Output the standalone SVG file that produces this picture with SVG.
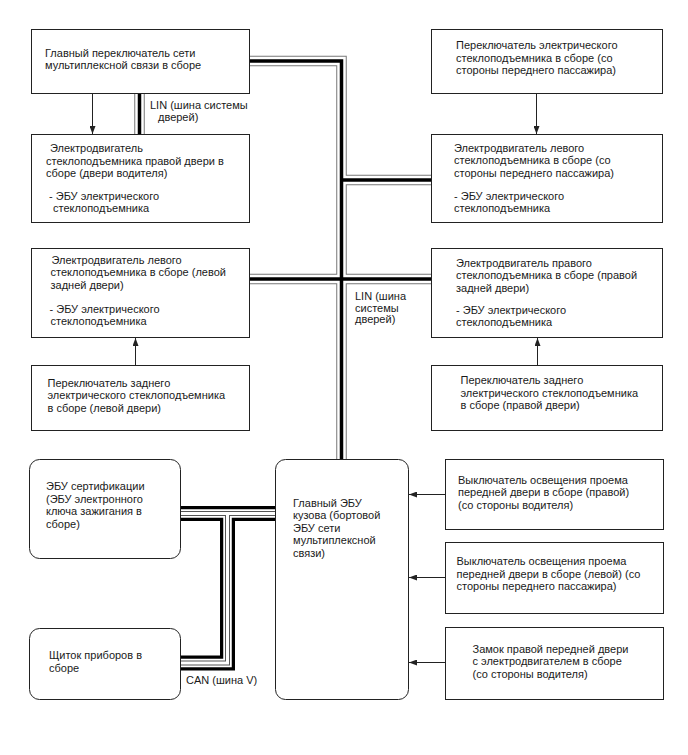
<svg xmlns="http://www.w3.org/2000/svg" xmlns:xlink="http://www.w3.org/1999/xlink" width="688" height="755" viewBox="0 0 688 755">
<style>
  .box { fill: #fff; stroke: #222; stroke-width: 1; }
  .t { font-family: "Liberation Sans", Arial, sans-serif; font-size: 11px; fill: #1a1a1a; }
  .arr { stroke: #222; stroke-width: 1; fill: none; marker-end: url(#ah); }
  .linA { stroke: #777; stroke-width: 10.5; fill: none; }
  .linB { stroke: #fff; stroke-width: 8.5; fill: none; }
  .linC { stroke: #000; stroke-width: 3.5; fill: none; }
  .canA { stroke: #000; stroke-width: 15; fill: none; }
  .canB { stroke: #fff; stroke-width: 8.5; fill: none; }
  .canC { stroke: #555; stroke-width: 5; fill: none; }
  .canD { stroke: #fff; stroke-width: 3; fill: none; }
</style>
<defs>
  <marker id="ah" markerWidth="8" markerHeight="6" refX="8" refY="3" orient="auto" markerUnits="userSpaceOnUse">
    <path d="M0,0 L8,3 L0,6 Z" fill="#222"/>
  </marker>
  <path id="lin1" d="M249.5,61 H341.5 V459" fill="none"/>
  <path id="lin2" d="M341.5,180 H431" fill="none"/>
  <path id="lin3" d="M249.5,279 H431" fill="none"/>
  <path id="lin4" d="M139.5,93.5 V134" fill="none"/>
  <path id="can1" d="M180.5,513.5 H275.5" fill="none"/>
  <path id="can2" d="M180.5,663 H227.5 V513.5" fill="none"/>
</defs>
<rect width="688" height="755" fill="#fff"/>
<g id="connectors">
  <use xlink:href="#lin1" class="linA"/><use xlink:href="#lin2" class="linA"/><use xlink:href="#lin3" class="linA"/><use xlink:href="#lin4" class="linA"/>
  <use xlink:href="#lin1" class="linB"/><use xlink:href="#lin2" class="linB"/><use xlink:href="#lin3" class="linB"/><use xlink:href="#lin4" class="linB"/>
  <use xlink:href="#lin1" class="linC"/><use xlink:href="#lin2" class="linC"/><use xlink:href="#lin3" class="linC"/><use xlink:href="#lin4" class="linC"/>
  <use xlink:href="#can1" class="canA"/><use xlink:href="#can2" class="canA"/>
  <use xlink:href="#can1" class="canB"/><use xlink:href="#can2" class="canB"/>
  <use xlink:href="#can1" class="canC"/><use xlink:href="#can2" class="canC"/>
  <use xlink:href="#can1" class="canD"/><use xlink:href="#can2" class="canD"/>
  <path class="arr" d="M92.5,93.5 V134"/>
  <path class="arr" d="M536.5,93.5 V134"/>
  <path class="arr" d="M135.5,365 V338"/>
  <path class="arr" d="M537.5,365 V338"/>
  <path class="arr" d="M445,494.5 H409"/>
  <path class="arr" d="M445,577.5 H409"/>
  <path class="arr" d="M445,662.5 H409"/>
  <text class="t"><tspan x="150" y="109">LIN (шина системы</tspan><tspan x="158" y="121">дверей)</tspan></text>
  <text class="t"><tspan x="355" y="300">LIN (шина</tspan><tspan x="355" y="311.5">системы</tspan><tspan x="355" y="323">дверей)</tspan></text>
  <text class="t" x="186" y="684">CAN (шина V)</text>
</g>
<g id="n1">
  <rect class="box" x="31.5" y="29.5" width="218" height="64"/>
  <text class="t"><tspan x="45" y="57">Главный переключатель сети</tspan><tspan x="45" y="69">мультиплексной связи в сборе</tspan></text>
</g>
<g id="n2">
  <rect class="box" x="31.5" y="134.5" width="218" height="88"/>
  <text class="t"><tspan x="50" y="152">Электродвигатель</tspan><tspan x="46" y="164.5">стеклоподъемника правой двери в</tspan><tspan x="46" y="177">сборе (двери водителя)</tspan><tspan x="49" y="199.5">- ЭБУ электрического</tspan><tspan x="53" y="212">стеклоподъемника</tspan></text>
</g>
<g id="n3">
  <rect class="box" x="431.5" y="29.5" width="231" height="64"/>
  <text class="t"><tspan x="456" y="49">Переключатель электрического</tspan><tspan x="456" y="61.5">стеклоподъемника в сборе (со</tspan><tspan x="456" y="74">стороны переднего пассажира)</tspan></text>
</g>
<g id="n4">
  <rect class="box" x="431.5" y="134.5" width="231" height="88"/>
  <text class="t"><tspan x="454" y="151.5">Электродвигатель левого</tspan><tspan x="454" y="164">стеклоподъемника в сборе (со</tspan><tspan x="454" y="176.5">стороны переднего пассажира)</tspan><tspan x="454" y="199.5">- ЭБУ электрического</tspan><tspan x="454" y="212">стеклоподъемника</tspan></text>
</g>
<g id="n5">
  <rect class="box" x="31.5" y="248.5" width="218" height="89"/>
  <text class="t"><tspan x="51.5" y="263.5">Электродвигатель левого</tspan><tspan x="50.5" y="276">стеклоподъемника в сборе (левой</tspan><tspan x="50.5" y="288.5">задней двери)</tspan><tspan x="49.5" y="312.5">- ЭБУ электрического</tspan><tspan x="50.5" y="325">стеклоподъемника</tspan></text>
</g>
<g id="n6">
  <rect class="box" x="431.5" y="248.5" width="231" height="89"/>
  <text class="t"><tspan x="456" y="266.5">Электродвигатель правого</tspan><tspan x="456" y="279">стеклоподъемника в сборе (правой</tspan><tspan x="456" y="291.5">задней двери)</tspan><tspan x="456" y="313.5">- ЭБУ электрического</tspan><tspan x="456" y="326">стеклоподъемника</tspan></text>
</g>
<g id="n7">
  <rect class="box" x="31.5" y="365.5" width="218" height="65"/>
  <text class="t"><tspan x="47.5" y="386.5">Переключатель заднего</tspan><tspan x="47.5" y="399">электрического стеклоподъемника</tspan><tspan x="47.5" y="411.5">в сборе (левой двери)</tspan></text>
</g>
<g id="n8">
  <rect class="box" x="431.5" y="365.5" width="231" height="65"/>
  <text class="t"><tspan x="460.5" y="384">Переключатель заднего</tspan><tspan x="460.5" y="396.5">электрического стеклоподъемника</tspan><tspan x="460.5" y="409">в сборе (правой двери)</tspan></text>
</g>
<g id="n9">
  <rect class="box" x="29.5" y="459.5" width="151" height="99" rx="10"/>
  <text class="t"><tspan x="46" y="490">ЭБУ сертификации</tspan><tspan x="46" y="502.5">(ЭБУ электронного</tspan><tspan x="46" y="515">ключа зажигания в</tspan><tspan x="46" y="527.5">сборе)</tspan></text>
</g>
<g id="n10">
  <rect class="box" x="275.5" y="459.5" width="133" height="240" rx="10"/>
  <text class="t"><tspan x="293" y="506.5">Главный ЭБУ</tspan><tspan x="293" y="519">кузова (бортовой</tspan><tspan x="293" y="531.5">ЭБУ сети</tspan><tspan x="293" y="544">мультиплексной</tspan><tspan x="293" y="556.5">связи)</tspan></text>
</g>
<g id="n11">
  <rect class="box" x="29.5" y="628.5" width="151" height="71" rx="10"/>
  <text class="t"><tspan x="49" y="659">Щиток приборов в</tspan><tspan x="49" y="671.5">сборе</tspan></text>
</g>
<g id="n12">
  <rect class="box" x="445.5" y="459.5" width="218" height="70"/>
  <text class="t"><tspan x="458" y="483.5">Выключатель освещения проема</tspan><tspan x="458" y="496">передней двери в сборе (правой)</tspan><tspan x="458" y="508.5">(со стороны водителя)</tspan></text>
</g>
<g id="n13">
  <rect class="box" x="445.5" y="542.5" width="218" height="71"/>
  <text class="t"><tspan x="456.5" y="565">Выключатель освещения проема</tspan><tspan x="456.5" y="577.5">передней двери в сборе (левой) (со</tspan><tspan x="456.5" y="590">стороны переднего пассажира)</tspan></text>
</g>
<g id="n14">
  <rect class="box" x="445.5" y="627.5" width="218" height="72"/>
  <text class="t"><tspan x="472.5" y="652.5">Замок правой передней двери</tspan><tspan x="472.5" y="665">с электродвигателем в сборе</tspan><tspan x="472.5" y="677.5">(со стороны водителя)</tspan></text>
</g>
</svg>
